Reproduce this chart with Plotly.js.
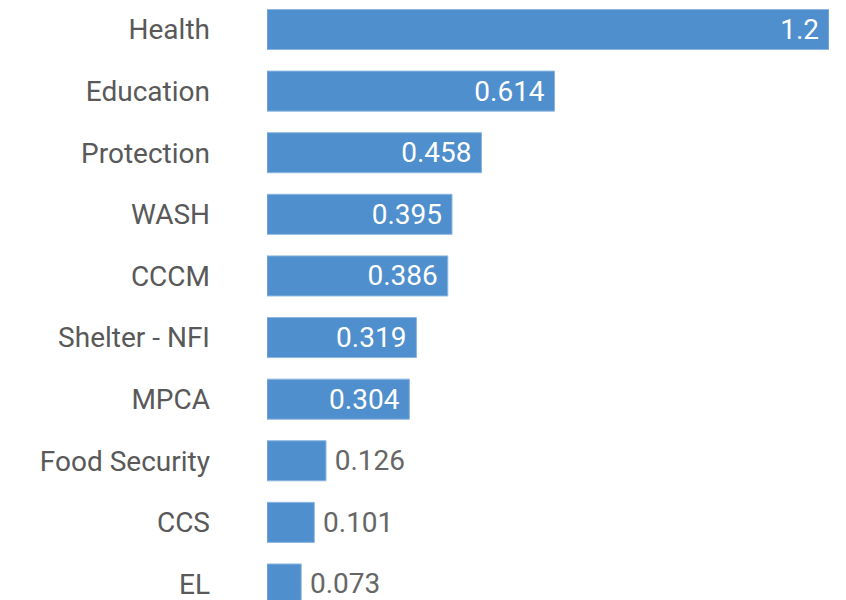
<!DOCTYPE html>
<html><head><meta charset="utf-8">
<script src="https://cdn.plot.ly/plotly-3.0.1.min.js"></script>
<style>html,body{margin:0;padding:0;background:#fff}</style>
</head><body>
<div id="chart" style="width:846px;height:600px"></div>
<script>
const categories = ["Health","Education","Protection","WASH","CCCM","Shelter - NFI","MPCA","Food Security","CCS","EL"];
const values = [1.2, 0.614, 0.458, 0.395, 0.386, 0.319, 0.304, 0.126, 0.101, 0.073];

const trace = {
  type: 'bar',
  orientation: 'h',
  y: categories,
  x: values,
  marker: {color: '#4f8fcd', line: {color: '#8cb6e0', width: 1}},
  texttemplate: '\u2009%{x}\u00a0',
  textposition: 'auto',
  insidetextfont: {family: 'Roboto', size: 28, color: '#ffffff'},
  outsidetextfont: {family: 'Roboto', size: 28, color: '#666666'},
  cliponaxis: false,
  hoverinfo: 'none'
};

const layout = {
  width: 846, height: 600,
  margin: {l: 267, r: 17, t: 0, b: 0},
  paper_bgcolor: '#ffffff', plot_bgcolor: '#ffffff',
  bargap: 0.35,
  showlegend: false,
  xaxis: {range: [0, 1.2], visible: false, showgrid: false, zeroline: false},
  yaxis: {
    type: 'category',
    range: [9.26, -0.479],
    showgrid: false, zeroline: false, showline: false,
    ticks: '', ticklabelstandoff: 56,
    tickfont: {family: 'Roboto', size: 28, color: '#595959'}
  },
  font: {family: 'Roboto'}
};

Plotly.newPlot('chart', [trace], layout, {displayModeBar: false, staticPlot: true});
</script>
</body></html>
